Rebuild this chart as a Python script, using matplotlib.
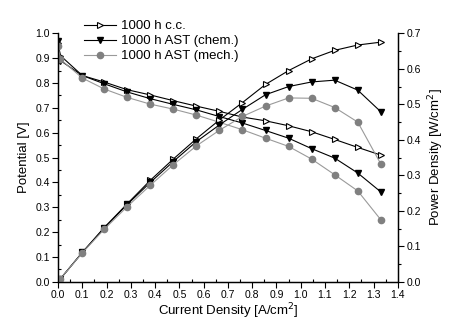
import matplotlib
matplotlib.use("Agg")
import matplotlib.pyplot as plt
from matplotlib.ticker import MultipleLocator

plt.rcParams['font.family'] = ['Liberation Sans', 'DejaVu Sans']

# current density [A/cm2]
current = [0.0, 0.01, 0.1, 0.19, 0.285, 0.38, 0.475, 0.57, 0.665, 0.76,
           0.855, 0.95, 1.045, 1.14, 1.235, 1.33]

# cell potential [V]
v_cc = [0.96, 0.91, 0.83, 0.804, 0.773, 0.752, 0.729, 0.707, 0.686, 0.663,
        0.648, 0.628, 0.604, 0.573, 0.541, 0.51]
v_chem = [0.97, 0.89, 0.83, 0.797, 0.764, 0.737, 0.714, 0.692, 0.665, 0.639,
          0.609, 0.578, 0.536, 0.498, 0.438, 0.362]
v_mech = [0.95, 0.895, 0.82, 0.776, 0.742, 0.715, 0.695, 0.671, 0.642, 0.612,
          0.578, 0.545, 0.494, 0.431, 0.366, 0.25]

# power density [W/cm2]
p_cc = [0.0, 0.009, 0.083, 0.153, 0.22, 0.286, 0.346, 0.403, 0.456, 0.505,
        0.556, 0.595, 0.628, 0.652, 0.667, 0.675]
p_chem = [0.0, 0.009, 0.083, 0.151, 0.218, 0.28, 0.339, 0.395, 0.442, 0.486,
          0.527, 0.55, 0.563, 0.568, 0.54, 0.479]
p_mech = [0.0, 0.009, 0.082, 0.148, 0.212, 0.272, 0.33, 0.383, 0.427, 0.466,
          0.495, 0.518, 0.517, 0.491, 0.45, 0.332]

labels = ['1000 h c.c.', '1000 h AST (chem.)', '1000 h AST (mech.)']

styles = [
    dict(color='black', marker='>', mfc='white', mec='black', ms=5, lw=0.8, mew=0.8),
    dict(color='black', marker='v', mfc='black', mec='black', ms=5, lw=0.8),
    dict(color='#9a9a9a', marker='o', mfc='#808080', mec='#808080', ms=4.5, lw=0.8),
]

fig = plt.figure(figsize=(4.5, 3.2), dpi=100)
ax = fig.add_axes([0.129, 0.119, 0.755, 0.777])
ax2 = ax.twinx()

lines = []
for v, lab, st in zip([v_cc, v_chem, v_mech], labels, styles):
    ln, = ax.plot(current, v, label=lab, **st)
    lines.append(ln)
for p, st in zip([p_cc, p_chem, p_mech], styles):
    ax2.plot(current, p, **st)

ax.set_xlim(0, 1.4)
ax.set_ylim(0, 1.0)
ax2.set_ylim(0, 0.7)

ax.xaxis.set_major_locator(MultipleLocator(0.1))
ax.xaxis.set_minor_locator(MultipleLocator(0.05))
ax.yaxis.set_major_locator(MultipleLocator(0.1))
ax.yaxis.set_minor_locator(MultipleLocator(0.05))
ax2.yaxis.set_major_locator(MultipleLocator(0.1))
ax2.yaxis.set_minor_locator(MultipleLocator(0.05))

ax.xaxis.set_major_formatter(plt.FormatStrFormatter('%.1f'))
ax.yaxis.set_major_formatter(plt.FormatStrFormatter('%.1f'))
ax2.yaxis.set_major_formatter(plt.FormatStrFormatter('%.1f'))

for a in (ax, ax2):
    a.spines['top'].set_visible(False)
    for s in a.spines.values():
        s.set_linewidth(0.9)

ax.tick_params(which='major', direction='out', length=4, width=0.8, labelsize=7.5, pad=2)
ax.tick_params(which='minor', direction='in', length=2.5, width=0.8)
ax2.tick_params(which='major', direction='out', length=4, width=0.8, labelsize=7.5, pad=2)
ax2.tick_params(which='minor', direction='out', length=2.5, width=0.8)

ax.set_xlabel('Current Density [A/cm$^2$]', fontsize=9.5, labelpad=1)
ax.set_ylabel('Potential [V]', fontsize=9.5, labelpad=4)
ax2.set_ylabel('Power Density [W/cm$^2$]', fontsize=9.5, labelpad=4)

ax.legend(handles=lines, loc='upper left', bbox_to_anchor=(0.062, 1.075),
          frameon=False, fontsize=9.5, handlelength=2.4, handletextpad=0.4,
          labelspacing=0.22, borderaxespad=0)

fig.savefig('out.png', dpi=100)
